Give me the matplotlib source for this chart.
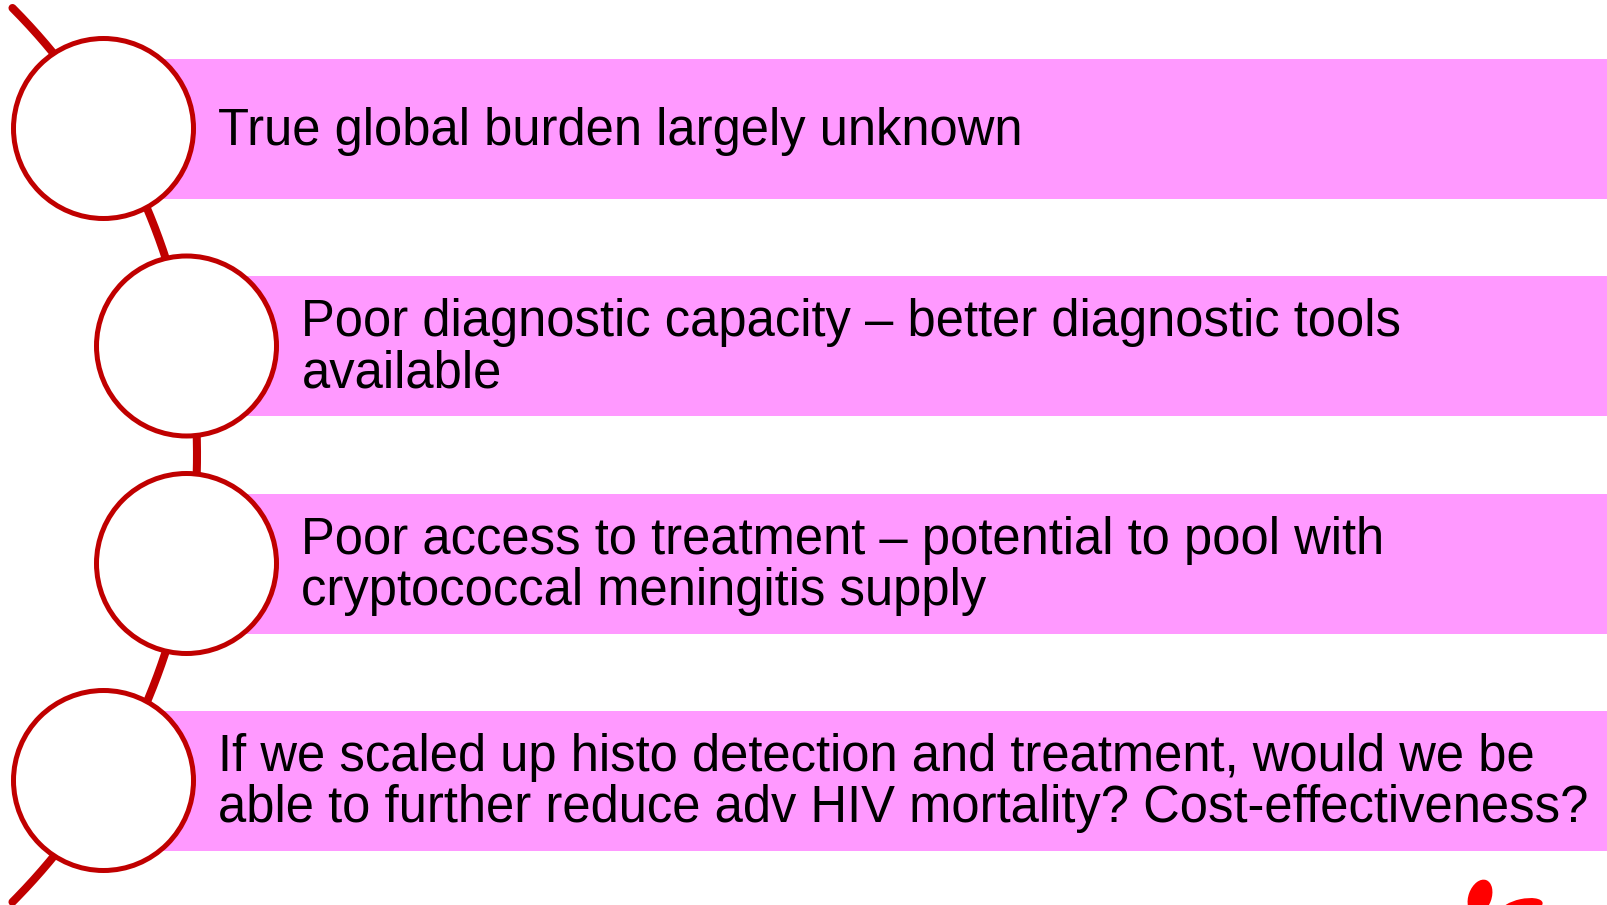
import numpy as np
import matplotlib
matplotlib.use('Agg')
import matplotlib.pyplot as plt
from matplotlib.patches import Circle, Rectangle, Ellipse

# ── content ────────────────────────────────────────────────────────────────────

ITEMS = [
    ['True global burden largely unknown'],
    ['Poor diagnostic capacity \u2013 better diagnostic tools', 'available'],
    ['Poor access to treatment \u2013 potential to pool with',
     'cryptococcal meningitis supply'],
    ['If we scaled up histo detection and treatment, would we be',
     'able to further reduce adv HIV mortality? Cost-effectiveness?'],
]

# ── layout (pixels, figure is 1608 x 905) ─────────────────────────────────────

W, H = 1608, 905
ROW_Y = [128.5, 346, 563.5, 780.5]      # circle / bar centres
ROW_X = [103.5, 186.5, 186.5, 103.5]
BAR_H = 140
CIRC_R = 90
ARC_R, ARC_CY = 633.7, 455
ARC_CX = 197 - ARC_R

PINK = '#FF99FF'
RED = '#C00000'
FONT = 'Liberation Sans'
FS = 36.55
LINE_GAP = 51.5

fig = plt.figure(figsize=(W / 100, H / 100), dpi=100)
ax = fig.add_axes([0, 0, 1, 1])
ax.set_xlim(0, W)
ax.set_ylim(H, 0)
ax.set_aspect('equal')
ax.axis('off')

# connecting arc
yy = np.linspace(8, 902, 400)
xx = ARC_CX + np.sqrt(ARC_R**2 - (yy - ARC_CY)**2)
ax.plot(xx, yy, color=RED, linewidth=5.8, solid_capstyle='round', zorder=1)

for lines, cx, yc in zip(ITEMS, ROW_X, ROW_Y):
    ax.add_patch(Rectangle((cx, yc - BAR_H / 2), W - cx, BAR_H,
                           facecolor=PINK, edgecolor='none', zorder=2))
    ax.add_patch(Circle((cx, yc), CIRC_R, facecolor='white', edgecolor=RED,
                        linewidth=3.6, zorder=3))
    n = len(lines)
    for i, txt in enumerate(lines):
        y = yc + (i - (n - 1) / 2) * LINE_GAP + 16
        ax.text(cx + 115, y, txt, fontsize=FS, family=FONT, color='black',
                ha='left', va='baseline', zorder=4)

# bit of the logo peeking in at the bottom right
ax.add_patch(Ellipse((1480, 897), 23, 36, angle=20, facecolor='#FF0000',
                     edgecolor='none', zorder=2))
ax.add_patch(Ellipse((1522, 907), 42, 16, angle=-12, facecolor='#FF0000',
                     edgecolor='none', zorder=2))

fig.savefig('out.png', dpi=100, facecolor='white')
